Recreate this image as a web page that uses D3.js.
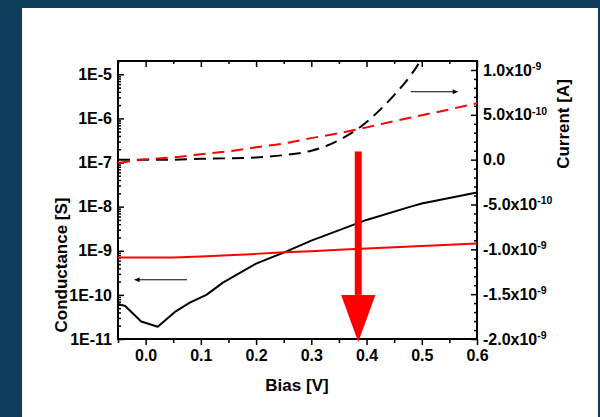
<!DOCTYPE html>
<html>
<head>
<meta charset="utf-8">
<script src="https://cdn.jsdelivr.net/npm/d3@7"></script>
<style>
body { margin: 0; background: #0e3d5c; }
svg { display: block; }
text { font-family: "Liberation Sans", Arial, sans-serif; font-weight: bold; fill: #000; }
</style>
</head>
<body>
<svg width="600" height="417"></svg>
<script>
// bias values (V) and conductance (S), left log axis
var condBlackX = [-0.05, -0.037, -0.008, 0.022, 0.053, 0.08, 0.11, 0.14, 0.2, 0.25, 0.3, 0.4, 0.48, 0.5, 0.6];
var condBlackY = [6.2e-11, 5.6e-11, 2.5e-11, 1.9e-11, 4.1e-11, 6.7e-11, 1.0e-10, 1.9e-10, 5.1e-10, 9.1e-10, 1.7e-9, 5.0e-9, 1.0e-8, 1.18e-8, 2.1e-8];

var condRedX = [-0.05, 0.0, 0.05, 0.1, 0.15, 0.2, 0.25, 0.3, 0.35, 0.4, 0.45, 0.5, 0.55, 0.6];
var condRedY = [7.0e-10, 7.0e-10, 7.05e-10, 7.4e-10, 7.9e-10, 8.5e-10, 9.2e-10, 9.8e-10, 1.05e-9, 1.12e-9, 1.2e-9, 1.28e-9, 1.37e-9, 1.47e-9];

// current (A), right linear axis
var curBlackX = [-0.05, 0.0, 0.05, 0.1, 0.15, 0.2, 0.25, 0.3, 0.33, 0.36, 0.39, 0.42, 0.45, 0.48, 0.5, 0.52];
var curBlackY = [0, 0, 0, 0.01e-9, 0.015e-9, 0.025e-9, 0.05e-9, 0.1e-9, 0.16e-9, 0.25e-9, 0.37e-9, 0.53e-9, 0.72e-9, 0.94e-9, 1.13e-9, 1.4e-9];

var curRedX = [-0.05, 0.0, 0.05, 0.1, 0.15, 0.2, 0.25, 0.3, 0.35, 0.4, 0.45, 0.5, 0.55, 0.6];
var curRedY = [-0.038e-9, 0.005e-9, 0.025e-9, 0.06e-9, 0.093e-9, 0.138e-9, 0.18e-9, 0.24e-9, 0.295e-9, 0.36e-9, 0.43e-9, 0.495e-9, 0.56e-9, 0.63e-9];

// tick labels
var xTicks = [0.0, 0.1, 0.2, 0.3, 0.4, 0.5, 0.6];
var xTickLabels = ["0.0", "0.1", "0.2", "0.3", "0.4", "0.5", "0.6"];
var leftTicks = [1e-11, 1e-10, 1e-9, 1e-8, 1e-7, 1e-6, 1e-5];
var leftTickLabels = ["1E-11", "1E-10", "1E-9", "1E-8", "1E-7", "1E-6", "1E-5"];
var rightTicks = [-2e-9, -1.5e-9, -1e-9, -5e-10, 0, 5e-10, 1e-9];
var rightTickMant = ["-2.0x10", "-1.5x10", "-1.0x10", "-5.0x10", "0.0", "5.0x10", "1.0x10"];
var rightTickExp = ["-9", "-9", "-9", "-10", "", "-10", "-9"];

// annotations (data coordinates)
var bigArrow = { x: 0.385, top: 1.78e-7, headBase: 1e-10, tip: 8.5e-12, halfHead: 0.031 };
var rightArrow = { x1: 0.48, x2: 0.565, y: 0.757e-9 };
var leftArrow = { x1: 0.075, x2: -0.02, y: 2.2e-10 };

var svg = d3.select("svg");

svg.append("rect")
    .attr("x", 22).attr("y", 8)
    .attr("width", 576).attr("height", 409)
    .attr("fill", "#fff");

var margin = { left: 118, top: 61 };
var width = 359, height = 278;

var x = d3.scaleLinear().domain([-0.05, 0.6]).range([0, width]);
var yL = d3.scaleLog().domain([1e-11, 2e-5]).range([height, 0]);
var yR = d3.scaleLinear().domain([-2e-9, 1.1e-9]).range([height, 0]);

var g = svg.append("g")
    .attr("transform", "translate(" + margin.left + "," + margin.top + ")");

var defs = svg.append("defs");
defs.append("clipPath").attr("id", "plot")
    .append("rect").attr("width", width).attr("height", height);
defs.append("marker")
    .attr("id", "head")
    .attr("viewBox", "0 0 10 10")
    .attr("refX", 10).attr("refY", 5)
    .attr("markerWidth", 9).attr("markerHeight", 5)
    .attr("markerUnits", "userSpaceOnUse")
    .attr("orient", "auto")
    .append("path")
    .attr("d", "M0,0 L10,5 L0,10 z")
    .attr("fill", "#000");

// minor tick values
var xMinor = d3.range(-0.05, 0.601, 0.05).filter(function(v) {
    return Math.abs(Math.round(v * 10) - v * 10) > 0.01;
});
var leftMinor = [];
for (var d = -11; d <= -5; d++) {
    for (var m = 2; m <= 9; m++) {
        var v = m * Math.pow(10, d);
        if (v < 2e-5) leftMinor.push(v);
    }
}
var rightMinor = d3.range(-20, 11).map(function(i) { return i * 1e-10; })
    .filter(function(v, i) { return i % 5 != 0; });

// bottom axis: ticks outward
g.append("g")
    .attr("transform", "translate(0," + height + ")")
    .call(d3.axisBottom(x).tickValues(xTicks).tickSize(6).tickPadding(5)
        .tickFormat(function(d, i) { return xTickLabels[i]; }))
    .call(function(a) { a.select(".domain").remove(); });
g.append("g")
    .attr("transform", "translate(0," + height + ")")
    .call(d3.axisBottom(x).tickValues(xMinor).tickSize(4).tickFormat(""))
    .call(function(a) { a.select(".domain").remove(); });

// top axis: ticks inward
g.append("g")
    .call(d3.axisTop(x).tickValues(xTicks).tickSize(-6).tickFormat(""))
    .call(function(a) { a.select(".domain").remove(); });
g.append("g")
    .call(d3.axisTop(x).tickValues(xMinor).tickSize(-3).tickFormat(""))
    .call(function(a) { a.select(".domain").remove(); });

// left axis
g.append("g")
    .call(d3.axisLeft(yL).tickValues(leftTicks).tickSize(-6).tickPadding(6)
        .tickFormat(function(d, i) { return leftTickLabels[i]; }))
    .call(function(a) { a.select(".domain").remove(); });
g.append("g")
    .call(d3.axisLeft(yL).tickValues(leftMinor).tickSize(-3).tickFormat(""))
    .call(function(a) { a.select(".domain").remove(); });

// right axis
var rAxis = g.append("g")
    .attr("transform", "translate(" + width + ",0)")
    .call(d3.axisRight(yR).tickValues(rightTicks).tickSize(-6).tickPadding(6)
        .tickFormat(""))
    .call(function(a) { a.select(".domain").remove(); });
g.append("g")
    .attr("transform", "translate(" + width + ",0)")
    .call(d3.axisRight(yR).tickValues(rightMinor).tickSize(-3).tickFormat(""))
    .call(function(a) { a.select(".domain").remove(); });

rAxis.selectAll(".tick text").each(function(d, i) {
    var t = d3.select(this).text(null);
    t.append("tspan").text(rightTickMant[i]);
    if (rightTickExp[i]) {
        t.append("tspan")
            .attr("dy", "-0.55em")
            .style("font-size", "10.5px")
            .text(rightTickExp[i]);
    }
});

g.selectAll(".tick line").attr("stroke", "#000").attr("stroke-width", 1.5);
g.selectAll(".tick text")
    .style("font-size", "16px")
    .style("font-family", "'Liberation Sans', Arial, sans-serif")
    .style("font-weight", "bold")
    .attr("fill", "#000");

// frame
g.append("rect")
    .attr("width", width).attr("height", height)
    .attr("fill", "none")
    .attr("stroke", "#000")
    .attr("stroke-width", 2);

// data lines
var plot = g.append("g").attr("clip-path", "url(#plot)");

function zip(xs, ys) {
    return xs.map(function(v, i) { return [v, ys[i]]; });
}

var lineL = d3.line()
    .x(function(d) { return x(d[0]); })
    .y(function(d) { return yL(d[1]); });
var lineR = d3.line()
    .curve(d3.curveMonotoneX)
    .x(function(d) { return x(d[0]); })
    .y(function(d) { return yR(d[1]); });

plot.append("path")
    .datum(zip(curBlackX, curBlackY))
    .attr("fill", "none").attr("stroke", "#000")
    .attr("stroke-width", 2).attr("stroke-dasharray", "12,7")
    .attr("d", lineR);

plot.append("path")
    .datum(zip(curRedX, curRedY))
    .attr("fill", "none").attr("stroke", "#ff0000")
    .attr("stroke-width", 2).attr("stroke-dasharray", "12,7")
    .attr("d", lineR);

plot.append("path")
    .datum(zip(condBlackX, condBlackY))
    .attr("fill", "none").attr("stroke", "#000")
    .attr("stroke-width", 2).attr("stroke-linejoin", "round")
    .attr("d", lineL);

plot.append("path")
    .datum(zip(condRedX, condRedY))
    .attr("fill", "none").attr("stroke", "#ff0000")
    .attr("stroke-width", 2)
    .attr("d", lineL);

// small pointer arrows
g.append("line")
    .attr("x1", x(rightArrow.x1)).attr("x2", x(rightArrow.x2))
    .attr("y1", yR(rightArrow.y)).attr("y2", yR(rightArrow.y))
    .attr("stroke", "#000").attr("stroke-width", 1)
    .attr("marker-end", "url(#head)");
g.append("line")
    .attr("x1", x(leftArrow.x1)).attr("x2", x(leftArrow.x2))
    .attr("y1", yL(leftArrow.y)).attr("y2", yL(leftArrow.y))
    .attr("stroke", "#000").attr("stroke-width", 1)
    .attr("marker-end", "url(#head)");

// big red arrow
var ax = x(bigArrow.x);
g.append("rect")
    .attr("x", ax - 3.5).attr("width", 7)
    .attr("y", yL(bigArrow.top))
    .attr("height", yL(bigArrow.headBase) - yL(bigArrow.top))
    .attr("fill", "#ff0000");
g.append("path")
    .attr("d", "M" + x(bigArrow.x - bigArrow.halfHead) + "," + yL(bigArrow.headBase) +
        "L" + x(bigArrow.x + bigArrow.halfHead) + "," + yL(bigArrow.headBase) +
        "L" + ax + "," + yL(bigArrow.tip) + "Z")
    .attr("fill", "#ff0000");

// axis titles
svg.append("text")
    .attr("x", 297).attr("y", 391)
    .attr("text-anchor", "middle")
    .style("font-size", "17px")
    .text("Bias [V]");

svg.append("text")
    .attr("transform", "translate(67,265) rotate(-90)")
    .attr("text-anchor", "middle")
    .style("font-size", "17px")
    .text("Conductance [S]");

svg.append("text")
    .attr("transform", "translate(569,124) rotate(-90)")
    .attr("text-anchor", "middle")
    .style("font-size", "17px")
    .text("Current [A]");
</script>
</body>
</html>
